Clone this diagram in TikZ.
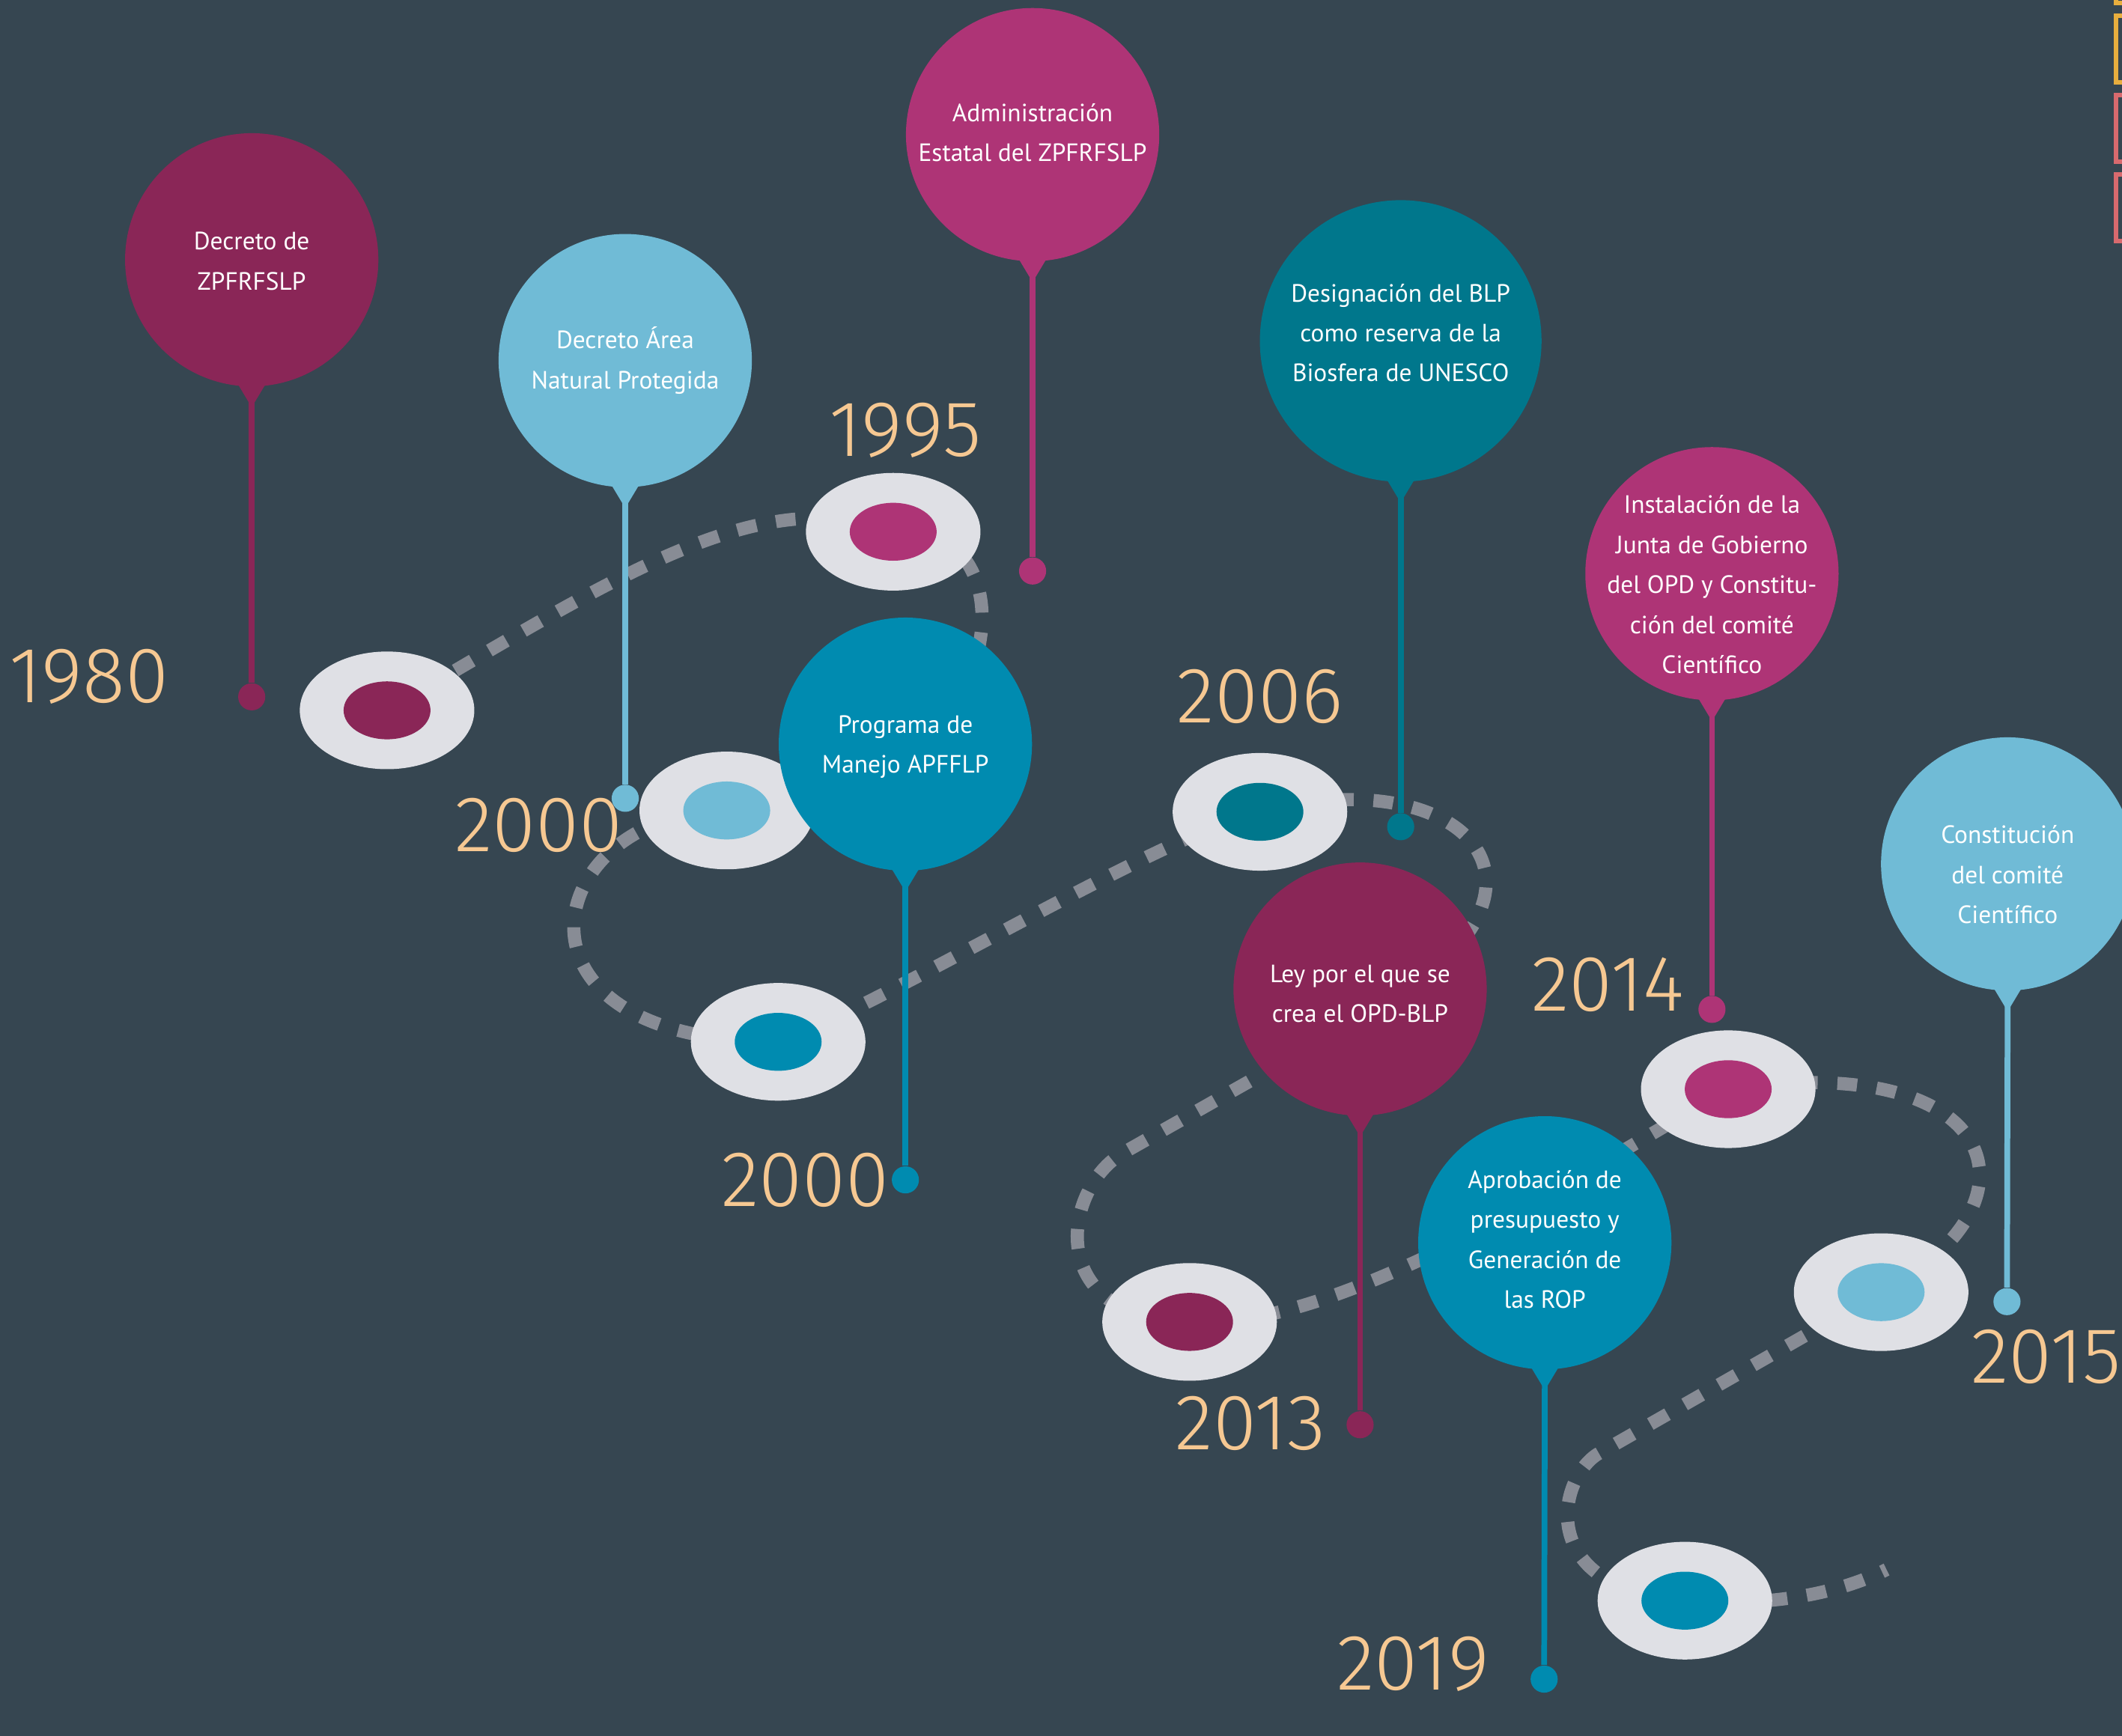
\documentclass[tikz,border=0pt]{standalone}
\usepackage{fontspec}
\usetikzlibrary{shapes.geometric}
\newfontfamily\pinfont{PT Sans}
\newfontfamily\yearfont{Fira Sans Light}
\definecolor{slate}{RGB}{54,70,81}
\definecolor{wine}{RGB}{138,38,87}
\definecolor{berry}{RGB}{174,52,118}
\definecolor{sky}{RGB}{112,187,214}
\definecolor{ocean}{RGB}{0,139,176}
\definecolor{petrol}{RGB}{0,119,140}
\definecolor{sand}{RGB}{246,200,146}
\definecolor{ringgrey}{RGB}{223,224,229}
\definecolor{trailgrey}{RGB}{136,140,149}
\definecolor{gold}{RGB}{232,174,62}
\definecolor{coral}{RGB}{216,106,110}

\begin{document}
\begin{tikzpicture}[x=0.018074cm, y=-0.018074cm,
    balloon/.style={circle, minimum size=96.2pt, inner sep=0pt},
    blurb/.style={text=white, align=center, inner sep=0pt,
        font=\pinfont\fontsize{9.5}{15.2}\selectfont},
    ring/.style={ellipse, fill=ringgrey, minimum width=66.3pt, minimum height=44.7pt, inner sep=0pt},
    hole/.style={ellipse, minimum width=33pt, minimum height=22pt, inner sep=0pt},
    pindot/.style={circle, minimum size=10.3pt, inner sep=0pt},
    stem/.style={line width=2.2pt},
    trail/.style={draw=trailgrey, line width=5pt, dash pattern=on 7.5pt off 7.5pt},
    year/.style={text=sand, inner sep=0pt, font=\yearfont\fontsize{30}{36}\selectfont}]
    \useasboundingbox (0,0) rectangle (1568,1283);
    \fill[slate] (0,0) rectangle (1568,1283);

    \draw[gold, line width=1.7pt] (1563.6,-40) rectangle (1620,2.2);
    \draw[gold, line width=1.7pt] (1563.6,11.6) rectangle (1620,60.9);
    \draw[coral, line width=1.7pt] (1563.6,70.3) rectangle (1620,119.5);
    \draw[coral, line width=1.7pt] (1563.6,128.9) rectangle (1620,178.2);

    \coordinate (p1) at (286,525);
    \coordinate (p2) at (660,393);
    \coordinate (p3) at (537,599);
    \coordinate (p4) at (575,770);
    \coordinate (p5) at (931,600);
    \coordinate (p6) at (879,977);
    \coordinate (p7) at (1277,805);
    \coordinate (p8) at (1390,955);
    \coordinate (p9) at (1245,1183);
    \coordinate (trailend) at (1394,1160);

    \draw[trail] (p1) .. controls (450,430) and (560,355) .. (p2)
        .. controls (770,380) and (750,600) .. (p3)
        .. controls (400,600) and (360,770) .. (p4)
        .. controls (640,750) and (860,615) .. (p5)
        .. controls (1085,560) and (1175,660) .. (1010,750) -- (830,852)
        .. controls (785,878) and (770,975) .. (p6)
        .. controls (990,985) and (1180,860) .. (p7)
        .. controls (1480,775) and (1515,890) .. (p8)
        -- (1180,1075) .. controls (1150,1095) and (1135,1175) .. (p9)
        .. controls (1310,1188) and (1360,1177) .. (trailend);

    \node[ring] (r1) at (p1) {};
    \node[hole, fill=wine] (h1) at (r1) {};
    \node[ring] (r2) at (p2) {};
    \node[hole, fill=berry] (h2) at (r2) {};
    \node[ring] (r3) at (p3) {};
    \node[hole, fill=sky] (h3) at (r3) {};
    \node[ring] (r4) at (p4) {};
    \node[hole, fill=ocean] (h4) at (r4) {};
    \node[ring] (r5) at (p5) {};
    \node[hole, fill=petrol] (h5) at (r5) {};
    \node[ring] (r6) at (p6) {};
    \node[hole, fill=wine] (h6) at (r6) {};
    \node[ring] (r7) at (p7) {};
    \node[hole, fill=berry] (h7) at (r7) {};
    \node[ring] (r8) at (p8) {};
    \node[hole, fill=sky] (h8) at (r8) {};
    \node[ring] (r9) at (p9) {};
    \node[hole, fill=ocean] (h9) at (r9) {};

    \node[balloon, fill=wine] (b1) at (186,192) {};
    \fill[wine] (b1.south) ++(-12,-5) -- ++(24,0) -- ++(-12,20) -- cycle;
    \node[pindot, fill=wine] (d1) at (186,515) {};
    \draw[stem, wine] (b1.south) -- (d1);
    \node[blurb] (t1) at (186,193) {Decreto de\\ZPFRFSLP};
    \node[year] (y1) at (65.6,500) {1980};

    \node[balloon, fill=sky] (b2) at (462,266.5) {};
    \fill[sky] (b2.south) ++(-12,-5) -- ++(24,0) -- ++(-12,20) -- cycle;
    \node[pindot, fill=sky] (d2) at (462,590) {};
    \draw[stem, sky] (b2.south) -- (d2);
    \node[blurb] (t2) at (462,266.5) {Decreto Área\\Natural Protegida};
    \node[year] (y2) at (398,610) {2000};

    \node[balloon, fill=berry] (b3) at (763,99.5) {};
    \fill[berry] (b3.south) ++(-12,-5) -- ++(24,0) -- ++(-12,20) -- cycle;
    \node[pindot, fill=berry] (d3) at (763,422) {};
    \draw[stem, berry] (b3.south) -- (d3);
    \node[blurb] (t3) at (763,98) {Administración\\Estatal del ZPFRFSLP};
    \node[year] (y3) at (669,318) {1995};

    \node[balloon, fill=ocean] (b4) at (669,550) {};
    \fill[ocean] (b4.south) ++(-12,-5) -- ++(24,0) -- ++(-12,20) -- cycle;
    \node[pindot, fill=ocean] (d4) at (669,872) {};
    \draw[stem, ocean] (b4.south) -- (d4);
    \node[blurb] (t4) at (669,552) {Programa de\\Manejo APFFLP};
    \node[year] (y4) at (595,872) {2000};

    \node[balloon, fill=petrol, minimum size=107pt] (b5) at (1035,252) {};
    \fill[petrol] (b5.south) ++(-12,-5) -- ++(24,0) -- ++(-12,20) -- cycle;
    \node[pindot, fill=petrol] (d5) at (1035,611) {};
    \draw[stem, petrol] (b5.south) -- (d5);
    \node[blurb] (t5) at (1035,246) {Designación del BLP\\como reserva de la\\Biosfera de UNESCO};
    \node[year] (y5) at (931,515) {2006};

    \node[balloon, fill=berry] (b6) at (1265,424) {};
    \fill[berry] (b6.south) ++(-12,-5) -- ++(24,0) -- ++(-12,20) -- cycle;
    \node[pindot, fill=berry] (d6) at (1265,746) {};
    \draw[stem, berry] (b6.south) -- (d6);
    \node[blurb] (t6) at (1265,432) {Instalación de la\\Junta de Gobierno\\del OPD y Constitu-\\ción del comité\\Científico};
    \node[year] (y6) at (1188,728) {2014};

    \node[balloon, fill=wine] (b7) at (1005,731) {};
    \fill[wine] (b7.south) ++(-12,-5) -- ++(24,0) -- ++(-12,20) -- cycle;
    \node[pindot, fill=wine] (d7) at (1005,1053) {};
    \draw[stem, wine] (b7.south) -- (d7);
    \node[blurb] (t7) at (1005,734.5) {Ley por el que se\\crea el OPD-BLP};
    \node[year] (y7) at (924,1052) {2013};

    \node[balloon, fill=ocean] (b8) at (1141.5,918.5) {};
    \fill[ocean] (b8.south) ++(-12,-5) -- ++(24,0) -- ++(-12,20) -- cycle;
    \node[pindot, fill=ocean] (d8) at (1141,1241) {};
    \draw[stem, ocean] (b8.south) -- (d8);
    \node[blurb] (t8) at (1141.5,916) {Aprobación de\\presupuesto y\\Generación de\\las ROP};
    \node[year] (y8) at (1044,1230) {2019};

    \node[balloon, fill=sky] (b9) at (1483.5,638.5) {};
    \fill[sky] (b9.south) ++(-12,-5) -- ++(24,0) -- ++(-12,20) -- cycle;
    \node[pindot, fill=sky] (d9) at (1483,962) {};
    \draw[stem, sky] (b9.south) -- (d9);
    \node[blurb] (t9) at (1483.5,646.5) {Constitución\\del comité\\Científico};
    \node[year, anchor=west] (y9) at (1456,1003) {2015};
\end{tikzpicture}
\end{document}
